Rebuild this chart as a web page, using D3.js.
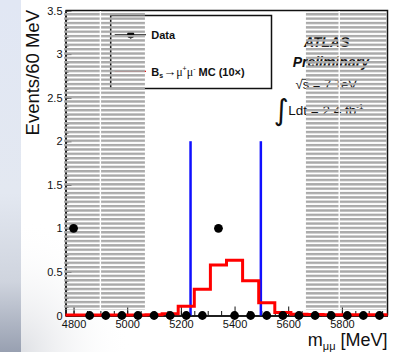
<!DOCTYPE html>
<html>
<head>
<meta charset="utf-8">
<script src="https://cdn.jsdelivr.net/npm/d3@7"></script>
<style>
  html, body { margin: 0; padding: 0; background: #fff; }
  svg { display: block; font-family: "Liberation Sans", Arial, Helvetica, sans-serif; }
</style>
</head>
<body>
<svg id="chart" width="396" height="352"></svg>
<script>
// ---- histogram content: 60 MeV bins of the dimuon mass ----
const binCenters = [4800, 4860, 4920, 4980, 5040, 5100, 5160, 5220, 5280, 5340,
                    5400, 5460, 5520, 5580, 5640, 5700, 5760, 5820, 5880, 5940];
const binWidth = 60;
// observed candidates per bin
const dataCounts = [1, 0, 0, 0, 0, 0, 0, 0, 0, 1,
                    0, 0, 0, 0, 0, 0, 0, 0, 0, 0];
// Bs -> mu+ mu- simulation, scaled by 10
const mcSignalX10 = [0.005, 0.005, 0.005, 0.005, 0.005, 0.008, 0.02, 0.107, 0.30, 0.58,
                     0.635, 0.40, 0.145, 0.035, 0.015, 0.012, 0.01, 0.01, 0.01, 0.01];

// ---- analysis regions ----
const massRange = [4770, 5970];
const signalWindow = [5236, 5498];
const signalWindowTop = 2;
const blindedRegion = [5066, 5666];

// ---- axis ticks ----
const yMajorTicks = [0, 0.5, 1, 1.5, 2, 2.5, 3, 3.5];
const yTickLabels = ["0", "0.5", "1", "1.5", "2", "2.5", "3", "3.5"];
const xMajorTicks = [4800, 5000, 5200, 5400, 5600, 5800];
const xTickLabels = ["4800", "5000", "5200", "5400", "5600", "5800"];

const W = 396, H = 352;
const svg = d3.select("#chart");

const x = d3.scaleLinear().domain(massRange).range([65.5, 387.5]);
const y = d3.scaleLinear().domain([0, 3.5]).range([315.5, 10.5]);

// ---- definitions: backdrop gradients and sideband hatch ----
const defs = svg.append("defs");
const strip = defs.append("linearGradient").attr("id", "strip")
  .attr("x1", 0).attr("y1", 0).attr("x2", 0).attr("y2", 1);
[[0, "#e1e7f4"], [0.55, "#e3e8f1"], [0.8, "#cfd4de"], [1, "#98a0b1"]]
  .forEach(([o, c]) => strip.append("stop").attr("offset", o).attr("stop-color", c));
const shade = defs.append("radialGradient").attr("id", "shade")
  .attr("cx", 0).attr("cy", 1).attr("r", 1);
shade.append("stop").attr("offset", 0).attr("stop-color", "#c9ccd3").attr("stop-opacity", 0.6);
shade.append("stop").attr("offset", 1).attr("stop-color", "#ffffff").attr("stop-opacity", 0);

const hatch = defs.append("pattern").attr("id", "hatch")
  .attr("patternUnits", "userSpaceOnUse").attr("width", 8).attr("height", 4.36);
hatch.append("rect").attr("width", 8).attr("height", 2.4).attr("fill", "#a9a9a9");

// ---- backdrop ----
svg.append("rect").attr("width", W).attr("height", H).attr("fill", "#fff");
svg.append("rect").attr("x", 21).attr("y", 220).attr("width", 110).attr("height", 132)
  .attr("fill", "url(#shade)");
svg.append("rect").attr("width", 21).attr("height", H).attr("fill", "url(#strip)");

// ---- y axis title ----
svg.append("text")
  .attr("transform", "translate(38.5,10) rotate(-90)")
  .attr("text-anchor", "end")
  .attr("font-size", 18.5)
  .attr("fill", "#111")
  .text("Events/60 MeV");

// ---- x axis title ----
const xt = svg.append("text")
  .attr("x", 387.5).attr("y", 346)
  .attr("text-anchor", "end")
  .attr("font-size", 18)
  .attr("fill", "#111");
xt.append("tspan").text("m");
xt.append("tspan").attr("font-size", 11).attr("dy", 4).text("μμ");
xt.append("tspan").attr("dy", -4).text(" [MeV]");

// ---- legend ----
const lg = svg.append("g");
lg.append("rect").attr("x", 110.7).attr("y", 15.5).attr("width", 160.8).attr("height", 73)
  .attr("fill", "#fff").attr("stroke", "#111").attr("stroke-width", 1.5);
lg.append("line").attr("x1", 114.7).attr("x2", 146).attr("y1", 34.7).attr("y2", 34.7)
  .attr("stroke", "#333").attr("stroke-width", 1.2);
lg.append("line").attr("x1", 130.7).attr("x2", 130.7).attr("y1", 31).attr("y2", 38.5)
  .attr("stroke", "#000").attr("stroke-width", 1.2);
lg.append("circle").attr("cx", 130.7).attr("cy", 34.7).attr("r", 3.6).attr("fill", "#000");
lg.append("text").attr("x", 151.3).attr("y", 39.3)
  .attr("font-size", 11).attr("font-weight", "bold").attr("fill", "#111").text("Data");
lg.append("line").attr("x1", 114.7).attr("x2", 146).attr("y1", 71.3).attr("y2", 71.3)
  .attr("stroke", "#e00000").attr("stroke-width", 1.2);
const lt = lg.append("text").attr("x", 151.3).attr("y", 75.5)
  .attr("font-size", 11).attr("fill", "#111");
lt.append("tspan").attr("font-weight", "bold").text("B");
lt.append("tspan").attr("font-weight", "bold").attr("font-size", 7).attr("dy", 2).text("s");
lt.append("tspan").attr("font-size", 13).attr("dy", -2).text("→");
lt.append("tspan").attr("font-size", 12).attr("font-family", "Liberation Serif, serif").text("μ");
lt.append("tspan").attr("font-size", 7).attr("dy", -4.5).text("+");
lt.append("tspan").attr("font-size", 12).attr("font-family", "Liberation Serif, serif").attr("dy", 4.5).text("μ");
lt.append("tspan").attr("font-size", 7).attr("dy", -4.5).text("-");
lt.append("tspan").attr("font-weight", "bold").attr("dy", 4.5).text(" MC (10×)");

// ---- experiment label ----
const lab = svg.append("g").attr("fill", "#111");
lab.append("text").attr("x", 326.7).attr("y", 47.3).attr("text-anchor", "middle")
  .attr("font-size", 14).attr("font-weight", "bold").attr("font-style", "italic").text("ATLAS");
lab.append("text").attr("x", 330.8).attr("y", 66.7).attr("text-anchor", "middle")
  .attr("font-size", 14).attr("font-weight", "bold").attr("font-style", "italic").text("Preliminary");
const root = lab.append("text").attr("x", 295.5).attr("y", 89).attr("font-size", 13).text("√");
const rootW = root.node().getComputedTextLength();
const sTxt = lab.append("text").attr("x", 295.5 + rootW).attr("y", 89).attr("font-size", 13).text("s");
const sW = sTxt.node().getComputedTextLength();
lab.append("line").attr("x1", 295.5 + rootW - 0.5).attr("x2", 295.5 + rootW + sW + 0.5)
  .attr("y1", 79.3).attr("y2", 79.3).attr("stroke", "#111").attr("stroke-width", 0.9);
lab.append("text").attr("x", 295.5 + rootW + sW).attr("y", 89).attr("font-size", 13)
  .attr("xml:space", "preserve").text(" = 7 TeV");
lab.append("text").attr("x", 273.5).attr("y", 120).attr("font-size", 29)
  .attr("font-family", "DejaVu Sans, sans-serif").text("∫");
const lum = lab.append("text").attr("x", 288.3).attr("y", 115).attr("font-size", 13.5);
lum.append("tspan").text("Ldt = 2.4 fb");
lum.append("tspan").attr("font-size", 8).attr("dy", -6).text("-1");

// ---- axes ----
function styleAxis(g) {
  g.attr("font-family", null).attr("font-size", null);
  g.selectAll("path.domain").attr("stroke", "#111").attr("stroke-width", 1.5);
  g.selectAll(".tick line").attr("stroke", "#111").attr("stroke-width", 1);
  g.selectAll(".tick text").attr("font-size", 11).attr("fill", "#111");
}
svg.append("g").attr("transform", "translate(0,315.5)")
  .call(d3.axisBottom(x).tickValues(d3.range(4800, 5951, 50)).tickSize(-4.5).tickSizeOuter(0).tickFormat(""))
  .call(styleAxis);
svg.append("g").attr("transform", "translate(0,315.5)")
  .call(d3.axisBottom(x).tickValues(xMajorTicks).tickSize(-9).tickSizeOuter(0).tickPadding(5)
    .tickFormat((d, i) => xTickLabels[i]))
  .call(styleAxis);
svg.append("g").attr("transform", "translate(65.5,0)")
  .call(d3.axisLeft(y).tickValues(d3.range(0, 3.501, 0.1)).tickSize(-3).tickSizeOuter(0).tickFormat(""))
  .call(styleAxis);
svg.append("g").attr("transform", "translate(65.5,0)")
  .call(d3.axisLeft(y).tickValues(yMajorTicks).tickSize(-6).tickSizeOuter(0).tickPadding(3)
    .tickFormat((d, i) => yTickLabels[i]))
  .call(styleAxis);
// frame: top and right edges
svg.append("path")
  .attr("d", `M${x(massRange[0])},${y(3.5)}H${x(massRange[1])}V${y(0)}`)
  .attr("fill", "none").attr("stroke", "#111").attr("stroke-width", 1.5);

// ---- sideband hatch (drawn over legend, labels and axis) ----
const hatchTop = 11, hatchBottom = 310;
const sidebands = [[massRange[0], blindedRegion[0]], [blindedRegion[1], massRange[1]]];
svg.selectAll("rect.side").data(sidebands).join("rect").attr("class", "side")
  .attr("x", (d, i) => x(d[0]) - (i === 0 ? 1.5 : 0))
  .attr("width", (d, i) => x(d[1]) - x(d[0]) + (i === 0 ? 1.5 : -0.8))
  .attr("y", hatchTop).attr("height", hatchBottom - hatchTop)
  .attr("fill", "url(#hatch)");
svg.selectAll("line.seam").data([4900, 5790]).join("line").attr("class", "seam")
  .attr("x1", d => x(d)).attr("x2", d => x(d))
  .attr("y1", hatchTop).attr("y2", hatchBottom)
  .attr("stroke", "#fff").attr("stroke-width", 1.4);

// ---- signal window ----
svg.selectAll("line.win").data(signalWindow).join("line").attr("class", "win")
  .attr("x1", d => x(d)).attr("x2", d => x(d))
  .attr("y1", y(0)).attr("y2", y(signalWindowTop))
  .attr("stroke", "#1010ff").attr("stroke-width", 2.5);

// ---- MC histogram ----
const steps = binCenters.map((c, i) => [c - binWidth / 2, mcSignalX10[i]]);
steps.push([binCenters[binCenters.length - 1] + binWidth / 2, mcSignalX10[mcSignalX10.length - 1]]);
svg.append("path").datum(steps)
  .attr("d", d3.line().x(d => x(d[0])).y(d => y(d[1])).curve(d3.curveStepAfter))
  .attr("fill", "none").attr("stroke", "#ff0000").attr("stroke-width", 3);

// ---- data points ----
svg.selectAll("circle.pt").data(binCenters).join("circle").attr("class", "pt")
  .attr("cx", d => x(d)).attr("cy", (d, i) => y(dataCounts[i]))
  .attr("r", 4.4).attr("fill", "#000");
</script>
</body>
</html>
